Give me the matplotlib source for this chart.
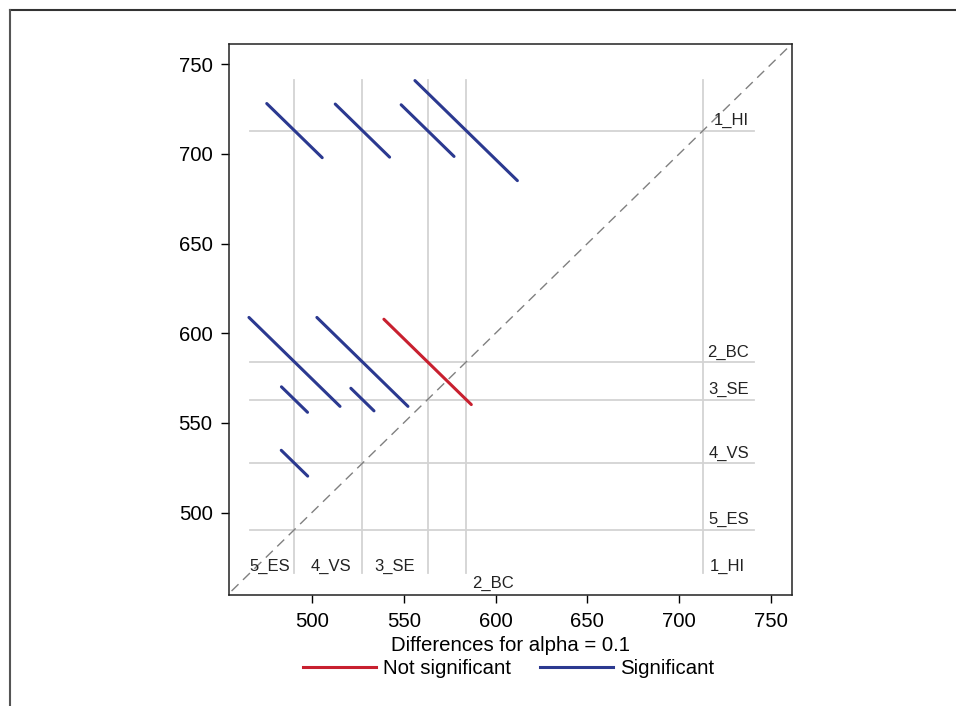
import matplotlib
matplotlib.use("Agg")
import matplotlib.pyplot as plt
from matplotlib.lines import Line2D

plt.rcParams['font.family'] = ['Liberation Sans', 'DejaVu Sans']

# ---- data ----
groups = ['1_HI', '2_BC', '3_SE', '4_VS', '5_ES']
means = [713.0, 584.0, 563.0, 527.5, 490.5]

pair_row = ['1_HI', '1_HI', '1_HI', '1_HI', '2_BC', '2_BC', '2_BC', '3_SE', '3_SE', '4_VS']
pair_col = ['5_ES', '4_VS', '3_SE', '2_BC', '5_ES', '4_VS', '3_SE', '5_ES', '4_VS', '5_ES']
half_width = [15.1, 14.8, 14.4, 27.9, 24.8, 24.8, 23.8, 7.1, 6.3, 7.2]
significant = [True, True, True, True, True, True, False, True, True, True]

x_ticks = [500, 550, 600, 650, 700, 750]
y_ticks = [500, 550, 600, 650, 700, 750]
x_label = 'Differences for alpha = 0.1'
legend_labels = ['Not significant', 'Significant']

# ---- style ----
BLUE = '#2B3990'
RED = '#C8202F'
REF = '#D3D3D3'
lim_lo, lim_hi = 455.0, 761.3
ylim_lo = 454.0
ref_lo, ref_hi = 466.5, 741.0
FS = 14.7
LFS = 12

fig = plt.figure(figsize=(9.56, 7.06), dpi=100)
ax = fig.add_axes([229.3 / 956, 1 - 595 / 706, (791.7 - 229.3) / 956, (595 - 44) / 706])

mean_of = dict(zip(groups, means))

# reference lines
for g, m in zip(groups, means):
    ax.plot([ref_lo, ref_hi], [m, m], color=REF, lw=1.3, zorder=1)
    ax.plot([m, m], [ref_lo, ref_hi], color=REF, lw=1.3, zorder=1)

# diagonal
ax.plot([lim_lo - 5, lim_hi + 5], [lim_lo - 5, lim_hi + 5], color='#808080', lw=1.0,
        dashes=(7, 4.5), zorder=2)

# segments
for r, c, h, s in zip(pair_row, pair_col, half_width, significant):
    xc = mean_of[c]
    yc = mean_of[r]
    ax.plot([xc - h, xc + h], [yc + h, yc - h], color=BLUE if s else RED, lw=2.2,
            solid_capstyle='round', zorder=3)

# right-side labels (above horizontal reference lines)
for g, m in zip(groups, means):
    ax.text(738.0, m + 1.2, g, ha='right', va='bottom', fontsize=LFS, color='#222222')

# bottom labels (near vertical reference lines)
bottom_dx = {'1_HI': 13.0, '2_BC': 14.5, '3_SE': -18.0, '4_VS': -17.0, '5_ES': -13.5}
bottom_y = {'1_HI': 470.0, '2_BC': 460.5, '3_SE': 470.0, '4_VS': 470.0, '5_ES': 470.0}
for g, m in zip(groups, means):
    ax.text(m + bottom_dx[g], bottom_y[g], g, ha='center', va='center', fontsize=LFS,
            color='#222222')

ax.set_xlim(lim_lo, lim_hi)
ax.set_ylim(ylim_lo, lim_hi)
ax.set_xticks(x_ticks)
ax.set_yticks(y_ticks)
ax.tick_params(axis='both', direction='out', length=6, width=1, labelsize=FS,
               colors='#000000', pad=6)
for sp in ax.spines.values():
    sp.set_color('#222222')
    sp.set_linewidth(1.1)
ax.set_xlabel(x_label, fontsize=FS, labelpad=4)

handles = [Line2D([], [], color=RED, lw=2.2), Line2D([], [], color=BLUE, lw=2.2)]
fig.legend(handles, legend_labels, loc='center', bbox_to_anchor=(0.532, 1 - 669 / 706),
           ncol=2, frameon=False, fontsize=FS, handlelength=3.6, handletextpad=0.35,
           columnspacing=1.4)

# outer frame
fig.add_artist(Line2D([10 / 956, 1.0], [1 - 10 / 706, 1 - 10 / 706], color='#333333', lw=1.5,
                      transform=fig.transFigure))
fig.add_artist(Line2D([10 / 956, 10 / 956], [1 - 10 / 706, 0.0], color='#555555', lw=1.5,
                      transform=fig.transFigure))

fig.savefig('out.png', dpi=100)
